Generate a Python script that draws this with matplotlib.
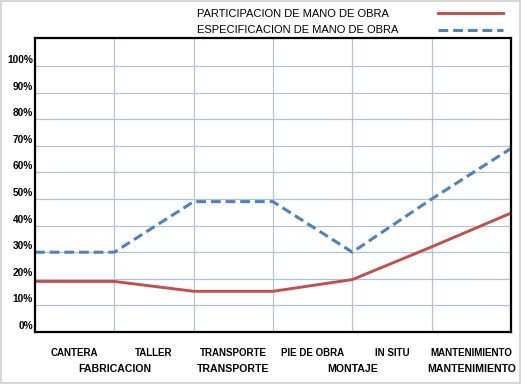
import matplotlib
matplotlib.use("Agg")
import matplotlib.pyplot as plt
import matplotlib.transforms as mtransforms
from matplotlib.lines import Line2D
from matplotlib.patches import Rectangle

plt.rcParams['font.family'] = ['Liberation Sans', 'DejaVu Sans']

participacion = [0.19, 0.19, 0.153, 0.153, 0.197, 0.32, 0.447]
especificacion = [0.30, 0.30, 0.49, 0.49, 0.30, 0.50, 0.69]

labels_row1 = ["CANTERA", "TALLER", "TRANSPORTE", "PIE DE OBRA", "IN SITU", "MANTENIMIENTO"]
labels_row2 = ["FABRICACION", "TRANSPORTE", "MONTAJE", "MANTENIMIENTO"]
row2_pos = [1.0, 2.5, 4.0, 5.5]
ytick_vals = [i / 10 for i in range(11)]

red = "#c0504d"
blue = "#4f81bd"

fig = plt.figure(figsize=(5.21, 3.84), dpi=100)
fig.patches.append(Rectangle((0.002, 0.003), 0.996, 0.994, transform=fig.transFigure,
                             fill=False, edgecolor="#d0d0d0", linewidth=1.2))
ax = fig.add_axes([35 / 521, 1 - 332 / 384, 476 / 521, 294 / 384])
x = list(range(len(participacion)))
ax.plot(x, participacion, color=red, linewidth=2.1, solid_capstyle="butt")
ax.plot(x, especificacion, color=blue, linewidth=2.2, linestyle=(0, (3.2, 1.6)))
ax.set_xlim(0, 6)
ax.set_ylim(0, 1.105)
ax.set_yticks(ytick_vals)
ax.set_yticklabels([])
ax.set_xticks([1, 2, 3, 4, 5])
ax.set_xticklabels([])
ax.tick_params(length=0, pad=2)
ax.grid(True, color="#b4c0d4", linewidth=0.9)
ax.set_axisbelow(True)
for s in ax.spines.values():
    s.set_linewidth(1.6)
    s.set_color("black")

offset = mtransforms.ScaledTranslation(0, 6 / 100, fig.dpi_scale_trans)
ytrans = ax.get_yaxis_transform() + offset
for v in ytick_vals:
    ax.text(-0.004, v, f"{int(round(v * 100))}%", transform=ytrans, ha="right", va="center",
            fontsize=7.3, fontweight="bold")

for i, lab in enumerate(labels_row1):
    ax.text(i + 0.5, -0.078, lab, ha="center", va="center", fontsize=7, fontweight="bold")
for p, lab in zip(row2_pos, labels_row2):
    ax.text(p, -0.138, lab, ha="center", va="center", fontsize=7.6, fontweight="bold")

# legend
fig.text(197 / 521, 1 - 14 / 384, "PARTICIPACION DE MANO DE OBRA", fontsize=8, va="center", ha="left")
fig.text(197 / 521, 1 - 30 / 384, "ESPECIFICACION DE MANO DE OBRA", fontsize=8, va="center", ha="left")
fig.add_artist(Line2D([438 / 521, 503 / 521], [1 - 13 / 384, 1 - 13 / 384], color=red, linewidth=2.1,
                      transform=fig.transFigure))
fig.add_artist(Line2D([438 / 521, 503 / 521], [1 - 30 / 384, 1 - 30 / 384], color=blue, linewidth=2.2,
                      linestyle=(0, (3.2, 1.6)), transform=fig.transFigure))

fig.savefig("out.png", dpi=100)
